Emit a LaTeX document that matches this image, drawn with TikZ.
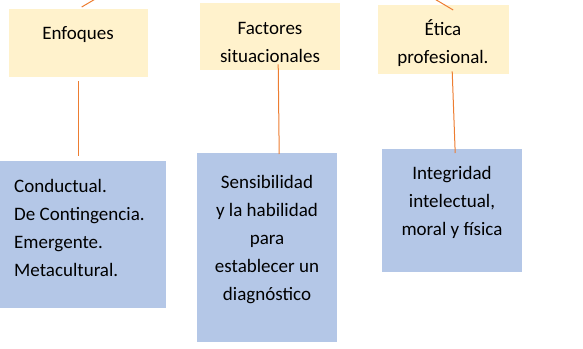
\documentclass[tikz,border=0pt]{standalone}
\usepackage{fontspec}
\setmainfont{Carlito}
\usetikzlibrary{positioning}
\definecolor{cajaAmarilla}{RGB}{255,242,204}
\definecolor{cajaAzul}{RGB}{180,199,231}
\definecolor{lineaNaranja}{RGB}{237,125,49}
\tikzset{
  amarilla/.style={fill=cajaAmarilla,inner sep=0pt,anchor=north west},
  azul/.style={fill=cajaAzul,inner sep=0pt,anchor=north west},
  texto/.style={font=\fontsize{19}{28}\selectfont,inner sep=0pt,anchor=base},
  enlace/.style={lineaNaranja,line width=1pt},
}
\begin{document}
\begin{tikzpicture}[x=1pt,y=-1pt]
    \useasboundingbox (0,0) rectangle (583,348);
    % cajas de arriba
    \node[amarilla,minimum width=139pt,minimum height=68pt](y1)at(9,9){};
    \node[amarilla,minimum width=140pt,minimum height=67pt](y2)at(200,3){};
    \node[amarilla,minimum width=131pt,minimum height=69pt](y3)at(378,5){};
    % cajas de abajo
    \node[azul,minimum width=166pt,minimum height=147pt](b1)at(0,161){};
    \node[azul,minimum width=140pt,minimum height=189pt](b2)at(197,153){};
    \node[azul,minimum width=140pt,minimum height=123pt](b3)at(382,149){};
    % textos (base = ultima linea)
    \node[texto](t1)at(78,39){Enfoques};
    \node[texto,align=center](t2)at(270,62){Factores\\situacionales};
    \node[texto,align=center](t3)at(443,63){Ética\\profesional.};
    \node[texto,anchor=base west,align=left](t4)at(14,276){Conductual.\\De Contingencia.\\Emergente.\\Metacultural.};
    \node[texto,align=center](t5)at(267,300){Sensibilidad\\y la habilidad\\para\\establecer un\\diagnóstico};
    \node[texto,align=center](t6)at(452,235){Integridad\\intelectual,\\moral y física};
    % enlaces
    \coordinate (c1) at (97,-2);
    \coordinate (c3) at (433,-2);
    \draw[enlace]([xshift=3pt,yshift=2pt]y1.north)--(c1);
    \draw[enlace]([xshift=9.5pt,yshift=-5pt]y3.north)--(c3);
    \draw[enlace]([yshift=-4pt]y1.south)--([xshift=-4.5pt,yshift=5pt]b1.north);
    \draw[enlace]([xshift=8pt,yshift=6pt]y2.south)--([xshift=12pt,yshift=-1pt]b2.north);
    \draw[enlace]([xshift=8.5pt,yshift=3pt]y3.south)--([xshift=3pt,yshift=-4pt]b3.north);
\end{tikzpicture}
\end{document}
